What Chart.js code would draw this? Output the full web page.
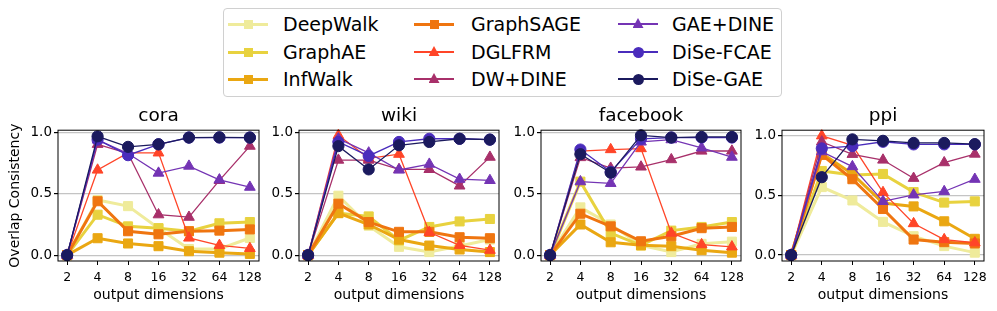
<!DOCTYPE html>
<html>
<head>
<meta charset="utf-8">
<script src="https://cdn.jsdelivr.net/npm/chart.js@4.4.0/dist/chart.umd.min.js"></script>
<style>
  body { margin: 0; background: #fff; width: 997px; height: 311px; overflow: hidden; position: relative; font-family: 'DejaVu Sans', sans-serif; }
  .panel { position: absolute; top: 100px; height: 211px; }
  #legend { position: absolute; left: 223px; top: 8px; width: 559px; height: 89px; border: 1px solid #d0d0d0; border-radius: 4px; box-sizing: border-box; }
  .handle { position: absolute; width: 40px; height: 12px; }
  .handle .ln { position: absolute; left: 0; width: 40px; }
  .handle .mk { position: absolute; }
  .lbl { position: absolute; font-size: 19px; line-height: 22px; color: #000; white-space: nowrap; }
</style>
</head>
<body>
<div id="legend"></div>
<canvas id="c0" class="panel" width="273" height="211" style="left:0px"></canvas>
<canvas id="c1" class="panel" width="254" height="211" style="left:259px"></canvas>
<canvas id="c2" class="panel" width="254" height="211" style="left:501px"></canvas>
<canvas id="c3" class="panel" width="254" height="211" style="left:742px"></canvas>
<script>
// x categories (output dimensions)
const dims = ['2', '4', '8', '16', '32', '64', '128'];
const methods = ['DeepWalk', 'GraphAE', 'InfWalk', 'GraphSAGE', 'DGLFRM', 'DW+DINE', 'GAE+DINE', 'DiSe-FCAE', 'DiSe-GAE'];
const colors = ['#efeb9b', '#e8d23f', '#eaa712', '#ef7510', '#ff4528', '#a8306a', '#7434b4', '#4a2cbc', '#1b1a5e'];
const markers = ['rect', 'rect', 'rect', 'rect', 'triangle', 'triangle', 'triangle', 'circle', 'circle'];
const yTicks = [0, 0.5, 1.0];

// one row per method, same order as `methods`
const cora = [
  [0, 0.45, 0.40, 0.22, 0.05, 0.05, 0.14],
  [0, 0.33, 0.235, 0.22, 0.195, 0.26, 0.27],
  [0, 0.138, 0.095, 0.073, 0.032, 0.02, 0.01],
  [0, 0.44, 0.195, 0.17, 0.195, 0.20, 0.21],
  [0, 0.695, 0.835, 0.835, 0.14, 0.08, 0.055],
  [0, 0.905, 0.83, 0.33, 0.31, 0.61, 0.89],
  [0, 0.94, 0.83, 0.67, 0.727, 0.615, 0.555],
  [0, 0.943, 0.816, 0.905, 0.96, 0.96, 0.96],
  [0, 0.97, 0.884, 0.905, 0.96, 0.962, 0.96]
];
const wiki = [
  [0, 0.485, 0.24, 0.068, 0.025, 0.075, 0.127],
  [0, 0.343, 0.316, 0.12, 0.23, 0.275, 0.295],
  [0, 0.343, 0.25, 0.127, 0.078, 0.046, 0.025],
  [0, 0.42, 0.27, 0.19, 0.19, 0.146, 0.138],
  [0, 0.978, 0.79, 0.824, 0.186, 0.08, 0.04],
  [0, 0.776, 0.776, 0.70, 0.70, 0.565, 0.80],
  [0, 0.95, 0.835, 0.695, 0.743, 0.62, 0.61],
  [0, 0.924, 0.81, 0.924, 0.95, 0.95, 0.943],
  [0, 0.89, 0.70, 0.897, 0.924, 0.95, 0.943]
];
const facebook = [
  [0, 0.39, 0.25, 0.08, 0.025, 0.092, 0.11],
  [0, 0.60, 0.18, 0.08, 0.20, 0.23, 0.27],
  [0, 0.25, 0.105, 0.08, 0.073, 0.04, 0.02],
  [0, 0.338, 0.235, 0.113, 0.154, 0.22, 0.23],
  [0, 0.85, 0.862, 0.87, 0.18, 0.086, 0.068],
  [0, 0.797, 0.71, 0.72, 0.78, 0.85, 0.85],
  [0, 0.60, 0.586, 0.924, 0.943, 0.876, 0.80],
  [0, 0.862, 0.68, 0.95, 0.96, 0.96, 0.96],
  [0, 0.824, 0.673, 0.978, 0.96, 0.965, 0.965]
];
const ppi = [
  [0, 0.57, 0.458, 0.278, 0.158, 0.075, 0.02],
  [0, 0.705, 0.672, 0.68, 0.528, 0.44, 0.45],
  [0, 0.853, 0.68, 0.436, 0.408, 0.283, 0.136],
  [0, 0.84, 0.636, 0.386, 0.13, 0.108, 0.097],
  [0, 1.0, 0.92, 0.525, 0.264, 0.13, 0.103],
  [0, 0.95, 0.845, 0.797, 0.644, 0.775, 0.847],
  [0, 0.867, 0.742, 0.45, 0.505, 0.533, 0.636],
  [0, 0.894, 0.914, 0.95, 0.928, 0.928, 0.928],
  [0, 0.653, 0.97, 0.958, 0.94, 0.94, 0.93]
];

const font = "'DejaVu Sans', sans-serif";

function lineWidthFor(i) {
  return markers[i] == 'rect' ? 3 : 1.3;
}
function radiusFor(i) {
  if (markers[i] == 'rect') return 6.4;
  if (markers[i] == 'triangle') return 6.2;
  return 5.6;
}

// black box round the plot area, like matplotlib spines
const frame = {
  id: 'frame',
  afterDatasetsDraw(chart) {
    const a = chart.chartArea;
    const ctx = chart.ctx;
    ctx.save();
    ctx.strokeStyle = '#000';
    ctx.lineWidth = 1;
    ctx.strokeRect(a.left, a.top, a.right - a.left, a.bottom - a.top);
    ctx.restore();
  }
};

function makePanel(id, title, values, yMin, yMax, showYTitle, yWidth, padRight) {
  let datasets = [];
  for (let i = 0; i < methods.length; i++) {
    datasets.push({
      label: methods[i],
      data: values[i].map((v, j) => ({ x: j, y: v })),
      borderColor: colors[i],
      backgroundColor: colors[i],
      borderWidth: lineWidthFor(i),
      pointStyle: markers[i],
      pointRadius: radiusFor(i),
      pointBorderWidth: 1,
      order: methods.length - i,
      clip: false
    });
  }
  new Chart(document.getElementById(id), {
    type: 'line',
    data: { datasets: datasets },
    options: {
      responsive: false,
      animation: false,
      layout: { padding: { left: 0, right: padRight, top: 0, bottom: 0 } },
      plugins: {
        legend: { display: false },
        tooltip: { enabled: false },
        title: {
          display: true, text: title, color: '#000', fullSize: false,
          font: { family: font, size: 18.5, weight: 'normal' },
          padding: { top: 5, bottom: 3 }
        }
      },
      scales: {
        x: {
          type: 'linear', min: -0.3, max: 6.3,
          afterBuildTicks: s => { s.ticks = dims.map((d, i) => ({ value: i })); },
          afterFit: s => { s.height = 50; },
          ticks: {
            callback: v => dims[v], color: '#000', padding: 5,
            autoSkip: false, maxRotation: 0,
            font: { family: font, size: 12.5 }
          },
          grid: { drawOnChartArea: false, drawTicks: true, tickLength: 4, tickColor: '#000' },
          border: { display: false },
          title: {
            display: true, text: 'output dimensions', color: '#000',
            font: { family: font, size: 14 },
            padding: { top: 0, bottom: 7.6 }
          }
        },
        y: {
          min: yMin, max: yMax,
          afterBuildTicks: s => { s.ticks = yTicks.map(v => ({ value: v })); },
          afterFit: s => { s.width = yWidth; },
          ticks: {
            callback: v => v.toFixed(1), color: '#000', padding: 2,
            font: { family: font, size: 13.5 }
          },
          grid: { color: '#c4c4c4', lineWidth: 1.2, tickLength: 4, tickColor: '#000' },
          border: { display: false },
          title: {
            display: showYTitle, text: 'Overlap Consistency', color: '#000',
            font: { family: font, size: 14 },
            padding: { top: 6.6, bottom: 0 }
          }
        }
      }
    },
    plugins: [frame]
  });
}

makePanel('c0', 'cora', cora, -0.048, 1.02, true, 58, 14);
makePanel('c1', 'wiki', wiki, -0.048, 1.02, false, 40, 14);
makePanel('c2', 'facebook', facebook, -0.048, 1.02, false, 40, 14);
makePanel('c3', 'ppi', ppi, -0.05, 1.047, false, 40, 12);

// legend: three columns of three entries
const legendBox = document.getElementById('legend');
const colHandle = [4, 190, 394];
const colText = [59, 247, 448];
const rowMid = [15, 43, 70];
for (let i = 0; i < methods.length; i++) {
  let col = Math.floor(i / 3);
  let row = i % 3;
  let h = document.createElement('div');
  h.className = 'handle';
  h.style.left = colHandle[col] + 'px';
  h.style.top = (rowMid[row] - 6) + 'px';
  let ln = document.createElement('div');
  ln.className = 'ln';
  let lw = lineWidthFor(i);
  ln.style.height = lw + 'px';
  ln.style.top = (6 - lw / 2) + 'px';
  ln.style.background = colors[i];
  h.appendChild(ln);
  let mk = document.createElement('div');
  mk.className = 'mk';
  mk.style.background = colors[i];
  if (markers[i] == 'rect') {
    mk.style.width = '9px'; mk.style.height = '9px';
    mk.style.left = '15.5px'; mk.style.top = '1.5px';
  } else if (markers[i] == 'triangle') {
    mk.style.width = '11px'; mk.style.height = '10px';
    mk.style.left = '14.5px'; mk.style.top = '0px';
    mk.style.clipPath = 'polygon(50% 0, 100% 100%, 0 100%)';
  } else {
    mk.style.width = '11px'; mk.style.height = '11px';
    mk.style.left = '14.5px'; mk.style.top = '0.5px';
    mk.style.borderRadius = '50%';
  }
  h.appendChild(mk);
  legendBox.appendChild(h);
  let t = document.createElement('div');
  t.className = 'lbl';
  t.textContent = methods[i];
  t.style.left = colText[col] + 'px';
  t.style.top = (rowMid[row] - 11) + 'px';
  legendBox.appendChild(t);
}
</script>
</body>
</html>
